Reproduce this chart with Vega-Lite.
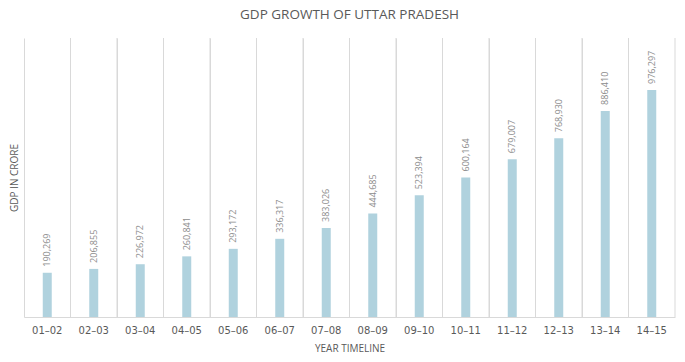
{
  "$schema": "https://vega.github.io/schema/vega-lite/v6.json",
  "width": 651,
  "height": 279,
  "autosize": {"type": "none"},
  "padding": {"left": 24, "top": 38, "right": 10, "bottom": 45},
  "background": "white",
  "title": {
    "text": "GDP GROWTH OF UTTAR PRADESH",
    "font": "Open Sans",
    "fontSize": 13.5,
    "fontWeight": "normal",
    "color": "#595959",
    "offset": 16
  },
  "config": {"view": {"stroke": null}},
  "data": {
    "values": [
      {"year": "01–02", "gdp": 190269},
      {"year": "02–03", "gdp": 206855},
      {"year": "03–04", "gdp": 226972},
      {"year": "04–05", "gdp": 260841},
      {"year": "05–06", "gdp": 293172},
      {"year": "06–07", "gdp": 336317},
      {"year": "07–08", "gdp": 383026},
      {"year": "08–09", "gdp": 444685},
      {"year": "09–10", "gdp": 523394},
      {"year": "10–11", "gdp": 600164},
      {"year": "11–12", "gdp": 679007},
      {"year": "12–13", "gdp": 768930},
      {"year": "13–14", "gdp": 886410},
      {"year": "14–15", "gdp": 976297}
    ]
  },
  "encoding": {
    "x": {
      "field": "year",
      "type": "nominal",
      "sort": null,
      "scale": {"paddingInner": 0, "paddingOuter": 0},
      "axis": {
        "title": "YEAR TIMELINE",
        "titleFont": "Open Sans",
        "titleFontSize": 10,
        "titleFontWeight": "normal",
        "titleColor": "#595959",
        "titlePadding": 8,
        "labelAngle": 0,
        "labelFont": "DejaVu Sans",
        "labelFontSize": 10,
        "labelColor": "#595959",
        "labelPadding": 8,
        "ticks": false,
        "domainColor": "#d9d9d9",
        "grid": true,
        "gridColor": "#d9d9d9",
        "bandPosition": 0
      }
    }
  },
  "layer": [
    {
      "mark": {"type": "rule", "color": "#d9d9d9"},
      "encoding": {
        "x": {"field": "year", "type": "nominal", "sort": null, "bandPosition": 1}
      }
    },
    {
      "mark": {"type": "bar", "color": "#b0d2de", "width": 9},
      "encoding": {
        "y": {
          "field": "gdp",
          "type": "quantitative",
          "scale": {"domain": [0, 1200000]},
          "axis": {
            "title": "GDP IN CRORE",
            "titleFont": "Open Sans",
            "titleFontSize": 10,
            "titleFontWeight": "normal",
            "titleColor": "#595959",
            "titlePadding": 5,
            "labels": false,
            "ticks": false,
            "domain": false,
            "grid": false
          }
        }
      }
    },
    {
      "mark": {
        "type": "text",
        "angle": 270,
        "align": "left",
        "baseline": "middle",
        "dx": 6,
        "font": "Open Sans",
        "fontSize": 9,
        "color": "#8c8c8c"
      },
      "encoding": {
        "y": {"field": "gdp", "type": "quantitative"},
        "text": {"field": "gdp", "type": "quantitative", "format": ","}
      }
    }
  ]
}
